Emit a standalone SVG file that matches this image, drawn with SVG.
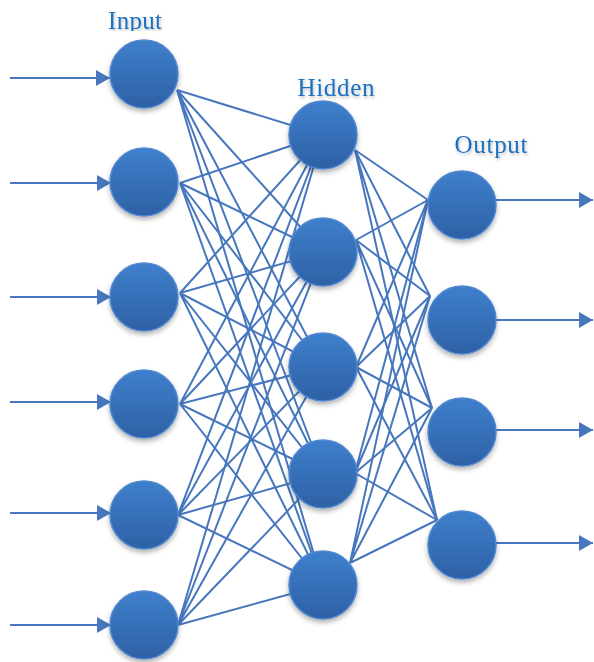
<svg xmlns="http://www.w3.org/2000/svg" width="594" height="662" viewBox="0 0 594 662">
  <style>
    .edge { stroke: #4677bd; stroke-width: 2; fill: none; }
    .arrow { stroke: #4677bd; stroke-width: 2; fill: none; marker-end: url(#ah); }
    .node circle { fill: url(#ng); stroke: #4f88d0; stroke-width: 1.5; filter: url(#ns); }
    .lbl { font-family: "Liberation Serif", "Times New Roman", serif; font-size: 25px; fill: #1f6fc0; filter: url(#ts); }
  </style>
  <defs>
    <linearGradient id="ng" x1="0" y1="0" x2="0" y2="1">
      <stop offset="0" stop-color="#3f7fcc"/>
      <stop offset="1" stop-color="#2d61a5"/>
    </linearGradient>
    <filter id="ns" x="-30%" y="-30%" width="160%" height="170%">
      <feDropShadow dx="0" dy="3" stdDeviation="2.5" flood-color="#000" flood-opacity="0.3"/>
    </filter>
    <filter id="ts" x="-20%" y="-40%" width="140%" height="180%">
      <feDropShadow dx="1" dy="2" stdDeviation="1.5" flood-color="#000" flood-opacity="0.25"/>
    </filter>
    <marker id="ah" markerWidth="14" markerHeight="16" refX="14" refY="8" orient="auto" markerUnits="userSpaceOnUse">
      <path d="M0,0 L14,8 L0,16 Z" fill="#4677bd"/>
    </marker>
    <clipPath id="c1"><rect x="90" y="0" width="100" height="31"/></clipPath>
    <clipPath id="c2"><rect x="280" y="60" width="120" height="97"/></clipPath>
    <clipPath id="c3"><rect x="440" y="110" width="110" height="155"/></clipPath>
  </defs>

  <g id="labels">
    <text class="lbl" x="135" y="29" text-anchor="middle" textLength="54" clip-path="url(#c1)">Input</text>
    <text class="lbl" x="336" y="96" text-anchor="middle" textLength="77" clip-path="url(#c2)">Hidden</text>
    <text class="lbl" x="491" y="153" text-anchor="middle" textLength="73" clip-path="url(#c3)">Output</text>
  </g>

  <g id="connectors">
    <!-- input arrows -->
    <line class="arrow" x1="10" y1="78" x2="110" y2="78"/>
    <line class="arrow" x1="10" y1="183" x2="111" y2="183"/>
    <line class="arrow" x1="10" y1="297" x2="111" y2="297"/>
    <line class="arrow" x1="10" y1="402" x2="111" y2="402"/>
    <line class="arrow" x1="10" y1="513" x2="111" y2="513"/>
    <line class="arrow" x1="10" y1="625" x2="111" y2="625"/>
    <!-- output arrows -->
    <line class="arrow" x1="496" y1="200" x2="593" y2="200"/>
    <line class="arrow" x1="496" y1="320" x2="593" y2="320"/>
    <line class="arrow" x1="496" y1="430" x2="593" y2="430"/>
    <line class="arrow" x1="496" y1="543" x2="593" y2="543"/>
    <!-- input -> hidden -->
    <path class="edge" d="M177,90 L323,135 M177,90 L323,252 M177,90 L323,367 M177,90 L323,474 M177,90 L323,585"/>
    <path class="edge" d="M180,183 L323,135 M180,183 L323,252 M180,183 L323,367 M180,183 L323,474 M180,183 L323,585"/>
    <path class="edge" d="M180,293 L323,135 M180,293 L323,252 M180,293 L323,367 M180,293 L323,474 M180,293 L323,585"/>
    <path class="edge" d="M180,404 L323,135 M180,404 L323,252 M180,404 L323,367 M180,404 L323,474 M180,404 L323,585"/>
    <path class="edge" d="M178,515 L323,135 M178,515 L323,252 M178,515 L323,367 M178,515 L323,474 M178,515 L323,585"/>
    <path class="edge" d="M178,625 L323,135 M178,625 L323,252 M178,625 L323,367 M178,625 L323,474 M178,625 L323,585"/>
    <!-- hidden -> output -->
    <path class="edge" d="M355,150 L428,200 M355,150 L430,296 M355,150 L432,408 M355,150 L437,520"/>
    <path class="edge" d="M356,240 L428,200 M356,240 L430,296 M356,240 L432,408 M356,240 L437,520"/>
    <path class="edge" d="M356,367 L428,200 M356,367 L430,296 M356,367 L432,408 M356,367 L437,520"/>
    <path class="edge" d="M355,473 L428,200 M355,473 L430,296 M355,473 L432,408 M355,473 L437,520"/>
    <path class="edge" d="M350,563 L428,200 M350,563 L430,296 M350,563 L432,408 M350,563 L437,520"/>
  </g>

  <g id="in1" class="node"><circle cx="144" cy="74" r="34"/></g>
  <g id="in2" class="node"><circle cx="144" cy="182" r="34"/></g>
  <g id="in3" class="node"><circle cx="144" cy="297" r="34"/></g>
  <g id="in4" class="node"><circle cx="144" cy="404" r="34"/></g>
  <g id="in5" class="node"><circle cx="144" cy="515" r="34"/></g>
  <g id="in6" class="node"><circle cx="144" cy="625" r="34"/></g>

  <g id="hid1" class="node"><circle cx="323" cy="135" r="34"/></g>
  <g id="hid2" class="node"><circle cx="323" cy="252" r="34"/></g>
  <g id="hid3" class="node"><circle cx="323" cy="367" r="34"/></g>
  <g id="hid4" class="node"><circle cx="323" cy="474" r="34"/></g>
  <g id="hid5" class="node"><circle cx="323" cy="585" r="34"/></g>

  <g id="out1" class="node"><circle cx="462" cy="205" r="34"/></g>
  <g id="out2" class="node"><circle cx="462" cy="320" r="34"/></g>
  <g id="out3" class="node"><circle cx="462" cy="432" r="34"/></g>
  <g id="out4" class="node"><circle cx="462" cy="545" r="34"/></g>
</svg>
